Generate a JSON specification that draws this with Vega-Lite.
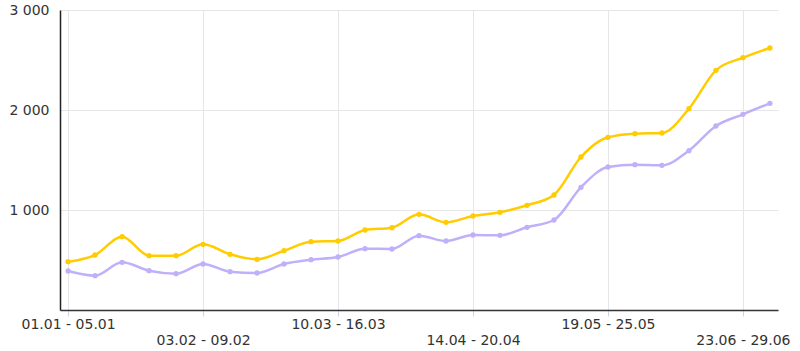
{
  "$schema": "https://vega.github.io/schema/vega-lite/v6.json",
  "autosize": {"type": "none"},
  "width": 718,
  "height": 300,
  "padding": {"left": 60, "top": 10, "right": 22, "bottom": 41},
  "background": "white",
  "config": {
    "view": {"stroke": null},
    "font": "DejaVu Sans"
  },
  "data": {
    "values": [
      {"week": "01.01 - 05.01", "series": "A", "value": 483},
      {"week": "01.01 - 05.01", "series": "B", "value": 390},
      {"week": "06.01 - 12.01", "series": "A", "value": 550},
      {"week": "06.01 - 12.01", "series": "B", "value": 343},
      {"week": "13.01 - 19.01", "series": "A", "value": 733},
      {"week": "13.01 - 19.01", "series": "B", "value": 477},
      {"week": "20.01 - 26.01", "series": "A", "value": 543},
      {"week": "20.01 - 26.01", "series": "B", "value": 393},
      {"week": "27.01 - 02.02", "series": "A", "value": 543},
      {"week": "27.01 - 02.02", "series": "B", "value": 363},
      {"week": "03.02 - 09.02", "series": "A", "value": 657},
      {"week": "03.02 - 09.02", "series": "B", "value": 460},
      {"week": "10.02 - 16.02", "series": "A", "value": 557},
      {"week": "10.02 - 16.02", "series": "B", "value": 383},
      {"week": "17.02 - 23.02", "series": "A", "value": 507},
      {"week": "17.02 - 23.02", "series": "B", "value": 370},
      {"week": "24.02 - 02.03", "series": "A", "value": 593},
      {"week": "24.02 - 02.03", "series": "B", "value": 460},
      {"week": "03.03 - 09.03", "series": "A", "value": 683},
      {"week": "03.03 - 09.03", "series": "B", "value": 503},
      {"week": "10.03 - 16.03", "series": "A", "value": 690},
      {"week": "10.03 - 16.03", "series": "B", "value": 530},
      {"week": "17.03 - 23.03", "series": "A", "value": 800},
      {"week": "17.03 - 23.03", "series": "B", "value": 613},
      {"week": "24.03 - 30.03", "series": "A", "value": 823},
      {"week": "24.03 - 30.03", "series": "B", "value": 610},
      {"week": "31.03 - 06.04", "series": "A", "value": 957},
      {"week": "31.03 - 06.04", "series": "B", "value": 743},
      {"week": "07.04 - 13.04", "series": "A", "value": 877},
      {"week": "07.04 - 13.04", "series": "B", "value": 690},
      {"week": "14.04 - 20.04", "series": "A", "value": 940},
      {"week": "14.04 - 20.04", "series": "B", "value": 750},
      {"week": "21.04 - 27.04", "series": "A", "value": 977},
      {"week": "21.04 - 27.04", "series": "B", "value": 747},
      {"week": "28.04 - 04.05", "series": "A", "value": 1047},
      {"week": "28.04 - 04.05", "series": "B", "value": 827},
      {"week": "05.05 - 11.05", "series": "A", "value": 1150},
      {"week": "05.05 - 11.05", "series": "B", "value": 900},
      {"week": "12.05 - 18.05", "series": "A", "value": 1530},
      {"week": "12.05 - 18.05", "series": "B", "value": 1227},
      {"week": "19.05 - 25.05", "series": "A", "value": 1727},
      {"week": "19.05 - 25.05", "series": "B", "value": 1430},
      {"week": "26.05 - 01.06", "series": "A", "value": 1763},
      {"week": "26.05 - 01.06", "series": "B", "value": 1453},
      {"week": "02.06 - 08.06", "series": "A", "value": 1770},
      {"week": "02.06 - 08.06", "series": "B", "value": 1447},
      {"week": "09.06 - 15.06", "series": "A", "value": 2013},
      {"week": "09.06 - 15.06", "series": "B", "value": 1593},
      {"week": "16.06 - 22.06", "series": "A", "value": 2397},
      {"week": "16.06 - 22.06", "series": "B", "value": 1840},
      {"week": "23.06 - 29.06", "series": "A", "value": 2523},
      {"week": "23.06 - 29.06", "series": "B", "value": 1957},
      {"week": "30.06 - 06.07", "series": "A", "value": 2620},
      {"week": "30.06 - 06.07", "series": "B", "value": 2067}
    ]
  },
  "encoding": {
    "x": {
      "field": "week",
      "type": "ordinal",
      "sort": null,
      "scale": {"type": "point", "padding": 0.3},
      "axis": {
        "title": null,
        "values": ["01.01 - 05.01", "03.02 - 09.02", "10.03 - 16.03", "14.04 - 20.04", "19.05 - 25.05", "23.06 - 29.06"],
        "labelExpr": "indexof(['03.02 - 09.02','14.04 - 20.04','23.06 - 29.06'], datum.value) >= 0 ? ['', datum.value] : datum.value",
        "labelAngle": 0,
        "labelOverlap": false,
        "labelBound": false,
        "labelFontSize": 14,
        "labelColor": "#333333",
        "labelLineHeight": 16,
        "labelPadding": 1,
        "labelBaseline": "top",
        "grid": true,
        "gridColor": "#e6e6e6",
        "gridWidth": 1,
        "ticks": true,
        "tickColor": "#ccd6eb",
        "tickSize": 6,
        "tickWidth": 1,
        "domainColor": "#333333",
        "domainWidth": 1.5
      }
    },
    "y": {
      "field": "value",
      "type": "quantitative",
      "scale": {"domain": [0, 3000], "nice": false, "zero": true},
      "axis": {
        "title": null,
        "values": [1000, 2000, 3000],
        "labelExpr": "replace(format(datum.value, ','), ',', ' ')",
        "labelFontSize": 14,
        "labelColor": "#333333",
        "labelPadding": 11,
        "ticks": false,
        "grid": true,
        "gridColor": "#e6e6e6",
        "gridWidth": 1,
        "domainColor": "#222222",
        "domainWidth": 1.5
      }
    },
    "color": {
      "field": "series",
      "type": "nominal",
      "scale": {"domain": ["A", "B"], "range": ["#ffcc00", "#c0b0f9"]},
      "legend": null
    }
  },
  "layer": [
    {
      "mark": {"type": "line", "interpolate": "monotone", "strokeWidth": 2.5}
    },
    {
      "mark": {"type": "point", "filled": true, "size": 28, "opacity": 1}
    }
  ]
}
